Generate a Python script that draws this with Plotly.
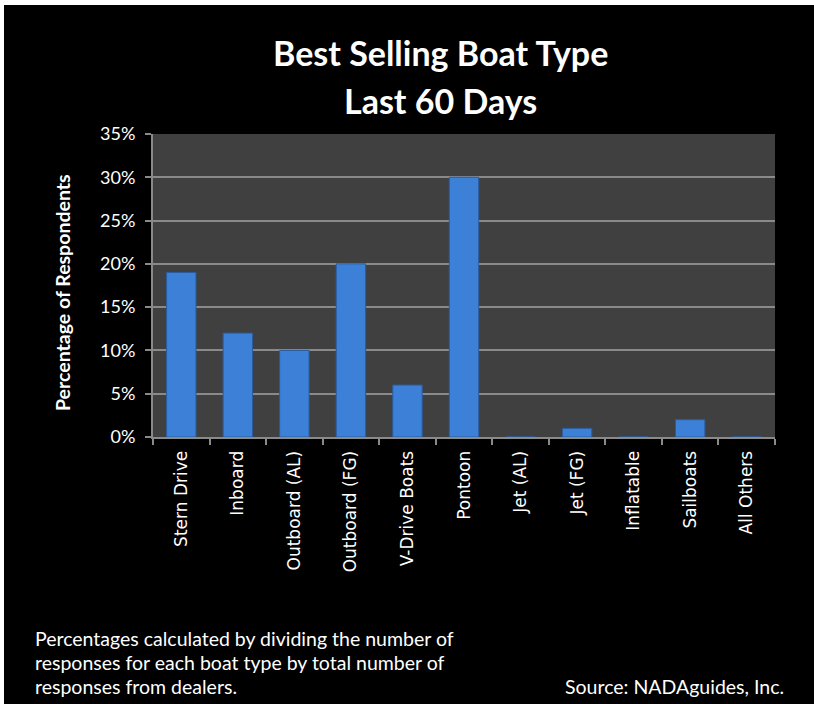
import plotly.graph_objects as go

categories = ["Stern Drive", "Inboard", "Outboard (AL)", "Outboard (FG)", "V-Drive Boats",
              "Pontoon", "Jet (AL)", "Jet (FG)", "Inflatable", "Sailboats", "All Others"]
values = [0.19, 0.12, 0.10, 0.20, 0.06, 0.30, 0.0, 0.01, 0.0, 0.02, 0.0]
y_ticks = [0, 0.05, 0.10, 0.15, 0.20, 0.25, 0.30, 0.35]
y_tick_labels = ["0%", "5%", "10%", "15%", "20%", "25%", "30%", "35%"]

W, H = 814, 704
L, R, T, B = 153, 39, 134, 267
PW, PH = W - L - R, H - T - B

def px_x(x):
    return (x - L) / PW

def px_y(y):
    return 1 - (y - T) / PH

fig = go.Figure()
fig.add_trace(go.Bar(
    x=categories, y=values,
    marker=dict(color="#3c80d8", line=dict(color="#2a5c9f", width=1)),
    width=0.52,
))

fig.update_layout(
    width=W, height=H,
    margin=dict(l=L, r=R, t=T, b=B, autoexpand=False),
    paper_bgcolor="black",
    plot_bgcolor="#404040",
    showlegend=False,
    xaxis=dict(
        tickangle=-90, tickfont=dict(family="DejaVu Sans", size=17, color="white"),
        ticks="outside", tickson="boundaries", ticklen=6, tickcolor="#8a8a8a", tickwidth=2,
        ticklabelstandoff=5,
        showline=True, linecolor="#8a8a8a", linewidth=2, showgrid=False,
    ),
    yaxis=dict(
        range=[0, 0.35], tickvals=y_ticks, ticktext=y_tick_labels,
        tickfont=dict(family="Lato", size=18, color="white"),
        ticks="outside", ticklen=6, tickcolor="#8a8a8a", tickwidth=2,
        ticklabelstandoff=6,
        showline=True, linecolor="#8a8a8a", linewidth=2,
        showgrid=True, gridcolor="#8a8a8a", gridwidth=2, zeroline=False,
    ),
)

ann = []
ann.append(dict(text="<b>Best Selling Boat Type</b>", x=px_x(440), y=px_y(52), xref="paper", yref="paper",
                showarrow=False, xanchor="center", yanchor="middle",
                font=dict(family="Lato", size=34, color="white")))
ann.append(dict(text="<b>Last 60 Days</b>", x=px_x(440), y=px_y(100), xref="paper", yref="paper",
                showarrow=False, xanchor="center", yanchor="middle",
                font=dict(family="Lato", size=34, color="white")))
ann.append(dict(text="<b>Percentage of Respondents</b>", x=px_x(62), y=px_y(293), xref="paper", yref="paper",
                showarrow=False, xanchor="center", yanchor="middle", textangle=-90,
                font=dict(family="Lato", size=19.5, color="white")))
footer = ["Percentages calculated by dividing the number of",
          "responses for each boat type by total number of",
          "responses from dealers."]
for i, line in enumerate(footer):
    ann.append(dict(text=line, x=px_x(33), y=px_y(638 + i * 24), xref="paper", yref="paper",
                    showarrow=False, xanchor="left", yanchor="middle",
                    font=dict(family="Lato", size=19.5, color="white")))
ann.append(dict(text="Source: NADAguides, Inc.", x=px_x(786), y=px_y(686), xref="paper", yref="paper",
                showarrow=False, xanchor="right", yanchor="middle",
                font=dict(family="Lato", size=19.5, color="white")))
fig.update_layout(annotations=ann)

# white border strips (top and left) as in the reference image
fig.add_shape(type="rect", xref="paper", yref="paper", x0=px_x(0), x1=px_x(W), y0=px_y(0), y1=px_y(5),
              fillcolor="white", line=dict(width=0), layer="above")
fig.add_shape(type="rect", xref="paper", yref="paper", x0=px_x(0), x1=px_x(4), y0=px_y(0), y1=px_y(H),
              fillcolor="white", line=dict(width=0), layer="above")

fig.write_html("out.html", config={"displayModeBar": False},
               post_script="document.body.style.margin='0';")
